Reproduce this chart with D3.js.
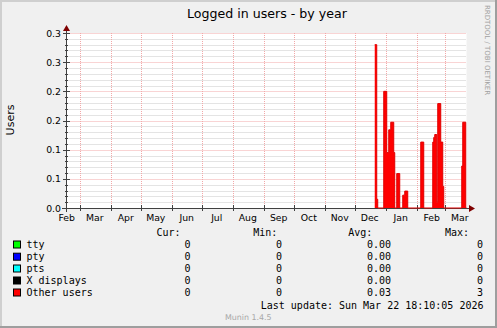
<!DOCTYPE html>
<html>
<head>
<meta charset="utf-8">
<script src="https://cdn.jsdelivr.net/npm/d3@7"></script>
<style>
  html, body { margin: 0; padding: 0; background: #f0f0f0; }
  svg { display: block; }
</style>
</head>
<body>
<div id="chart"></div>
<script>
// series values (Other users), step changes
const changeDays = ["2025-12-21", "2025-12-23", "2025-12-24", "2025-12-30", "2026-01-02",
    "2026-01-04", "2026-01-06", "2026-01-09", "2026-01-10", "2026-01-12", "2026-01-15",
    "2026-01-18", "2026-01-20", "2026-01-23", "2026-02-05", "2026-02-08", "2026-02-17",
    "2026-02-18", "2026-02-19", "2026-02-21", "2026-02-22", "2026-02-25", "2026-02-27",
    "2026-02-28", "2026-03-18", "2026-03-19", "2026-03-22"];
const otherUsers = [0.28, 0.015, 0, 0.2, 0.095,
    0.134, 0.147, 0.095, 0, 0.059, 0,
    0.022, 0.029, 0, 0.113, 0, 0.113,
    0.121, 0.126, 0.01, 0.179, 0.113, 0.037,
    0, 0.072, 0.147, 0];

// legend
const seriesNames = ["tty", "pty", "pts", "X displays", "Other users"];
const seriesColors = ["#00ff00", "#0000ff", "#00ffff", "#000000", "#ff0000"];
const curValues = ["0", "0", "0", "0", "0"];
const minValues = ["0", "0", "0", "0", "0"];
const avgValues = ["0.00", "0.00", "0.00", "0.00", "0.03"];
const maxValues = ["0", "0", "0", "0", "3"];

const yTicks = [0, 0.05, 0.1, 0.15, 0.2, 0.25, 0.3];
const yTickLabels = ["0.0", "0.1", "0.1", "0.2", "0.2", "0.3", "0.3"];

const title = "Logged in users - by year";
const lastUpdate = "Last update: Sun Mar 22 18:10:05 2026";

const W = 497, H = 328;
const sans = "'DejaVu Sans', sans-serif";
const mono = "'DejaVu Sans Mono', monospace";

let svg = d3.select('#chart').append('svg')
    .attr('width', W)
    .attr('height', H);

// background + 3d frame
svg.append('rect').attr('width', W).attr('height', H).attr('fill', '#f0f0f0');
svg.append('path').attr('d', 'M0,0H' + W + 'V2H2V' + H + 'H0Z').attr('fill', '#cfcfcf');
svg.append('path').attr('d', 'M' + W + ',0V' + H + 'H0V' + (H - 2) + 'H' + (W - 2) + 'V0Z').attr('fill', '#9e9e9e');

let end = new Date(2026, 2, 22, 18, 10, 5);
let start = d3.timeDay.offset(end, -400);

let x = d3.scaleTime().domain([start, end]).range([66.5, 466.5]);
let y = d3.scaleLinear().domain([0, 0.3]).range([208, 33]);

let plot = svg.append('g');
plot.append('rect')
    .attr('x', 66.5).attr('y', 33)
    .attr('width', 400).attr('height', 175)
    .attr('fill', '#ffffff');

// minor horizontal grid
let minor = d3.range(1, 30).map(i => i / 100).filter(v => !yTicks.some(t => Math.abs(t - v) < 1e-9));
plot.selectAll('.hminor').data(minor).enter().append('line')
    .attr('x1', 66.5).attr('x2', 466.5)
    .attr('y1', d => Math.round(y(d)) + 0.5).attr('y2', d => Math.round(y(d)) + 0.5)
    .attr('stroke', '#c8c8c8').attr('stroke-dasharray', '1,1');

// major grid
let months = d3.timeMonth.range(d3.timeMonth.ceil(start), end);
plot.selectAll('.vgrid').data(months).enter().append('line')
    .attr('x1', d => Math.round(x(d)) + 0.5).attr('x2', d => Math.round(x(d)) + 0.5)
    .attr('y1', 33).attr('y2', 208)
    .attr('stroke', '#f2a8a8').attr('stroke-dasharray', '1,1');
plot.selectAll('.hmajor').data(yTicks.slice(1)).enter().append('line')
    .attr('x1', 66.5).attr('x2', 466.5)
    .attr('y1', d => Math.round(y(d)) + 0.5).attr('y2', d => Math.round(y(d)) + 0.5)
    .attr('stroke', '#f2a8a8').attr('stroke-dasharray', '1,1');

// axes
let axisColor = '#404040';
plot.selectAll('.ytick').data(yTicks).enter().append('line')
    .attr('x1', 63).attr('x2', 70)
    .attr('y1', d => Math.round(y(d)) + 0.5).attr('y2', d => Math.round(y(d)) + 0.5)
    .attr('stroke', axisColor);
plot.selectAll('.ymtick').data(minor).enter().append('line')
    .attr('x1', 65).attr('x2', 68)
    .attr('y1', d => Math.round(y(d)) + 0.5).attr('y2', d => Math.round(y(d)) + 0.5)
    .attr('stroke', axisColor);
plot.selectAll('.xtick').data(months).enter().append('line')
    .attr('x1', d => Math.round(x(d)) + 0.5).attr('x2', d => Math.round(x(d)) + 0.5)
    .attr('y1', 205).attr('y2', 211)
    .attr('stroke', axisColor);

plot.append('line').attr('x1', 66.5).attr('x2', 66.5).attr('y1', 212).attr('y2', 30)
    .attr('stroke', axisColor);
plot.append('line').attr('x1', 62).attr('x2', 470).attr('y1', 208.5).attr('y2', 208.5)
    .attr('stroke', axisColor);
plot.append('path').attr('d', 'M63,31L66.5,25L70,31Z').attr('fill', '#7f0000');
plot.append('path').attr('d', 'M469,205L475,208.5L469,212Z').attr('fill', '#7f0000');

// data
let parse = d3.timeParse('%Y-%m-%d');
let data = changeDays.map((d, i) => ({ date: parse(d), v: otherUsers[i] }));
data.push({ date: end, v: 0 });

let area = d3.area()
    .curve(d3.curveStepAfter)
    .x(d => x(d.date))
    .y0(y(0))
    .y1(d => y(d.v));
let line = d3.line()
    .curve(d3.curveStepAfter)
    .x(d => x(d.date))
    .y(d => y(d.v));

plot.append('path').datum(data).attr('d', area).attr('fill', '#ff0000');
plot.append('path').datum(data).attr('d', line)
    .attr('fill', 'none').attr('stroke', '#e00000').attr('stroke-width', 1);

// tick labels
svg.selectAll('.ylab').data(yTicks).enter().append('text')
    .attr('x', 61).attr('y', d => y(d) + 3.5)
    .attr('text-anchor', 'end')
    .attr('font-family', sans).attr('font-size', '9.3px').attr('fill', '#000')
    .text((d, i) => yTickLabels[i]);

let labelDays = d3.timeMonth.range(d3.timeMonth.floor(start), end)
    .map(m => d3.timeDay.offset(m, 15))
    .filter(d => d >= start && d <= end);
svg.selectAll('.xlab').data(labelDays).enter().append('text')
    .attr('x', d => x(d)).attr('y', 220.5)
    .attr('text-anchor', 'middle')
    .attr('font-family', sans).attr('font-size', '9.3px').attr('fill', '#000')
    .text(d3.timeFormat('%b'));

// titles
svg.append('text')
    .attr('x', 267).attr('y', 18.3)
    .attr('text-anchor', 'middle')
    .attr('font-family', sans).attr('font-size', '12.6px').attr('fill', '#000')
    .text(title);

svg.append('text')
    .attr('transform', 'translate(14,120) rotate(-90)')
    .attr('text-anchor', 'middle')
    .attr('font-family', sans).attr('font-size', '11px').attr('fill', '#000')
    .text('Users');

svg.append('text')
    .attr('transform', 'translate(485,50) rotate(90)')
    .attr('text-anchor', 'middle')
    .attr('font-family', sans).attr('font-size', '7px').attr('fill', '#a0a0a0')
    .text('RRDTOOL / TOBI OETIKER');

// legend
let legend = svg.append('g')
    .attr('font-family', mono).attr('font-size', '10px').attr('fill', '#000');

let headers = [['Cur:', 180], ['Min:', 277.3], ['Avg:', 372.3], ['Max:', 469]];
headers.forEach(h => {
    legend.append('text').attr('x', h[0] === 'Cur:' ? 180.5 : h[1]).attr('y', 235.8)
        .attr('text-anchor', 'end').text(h[0]);
});

let rowY = [244.5, 256.7, 268.5, 280.5, 292.5];
let cols = [[curValues, 190.5], [minValues, 282], [avgValues, 391], [maxValues, 483]];
seriesNames.forEach((name, i) => {
    let cy = rowY[i];
    legend.append('rect')
        .attr('x', 13.5).attr('y', cy - 3.5)
        .attr('width', 7).attr('height', 7)
        .attr('fill', seriesColors[i]).attr('stroke', '#000').attr('stroke-width', 1);
    legend.append('text').attr('x', 26.5).attr('y', cy + 3.5).text(name);
    cols.forEach(c => {
        legend.append('text').attr('x', c[1]).attr('y', cy + 3.5)
            .attr('text-anchor', 'end').text(c[0][i]);
    });
});

legend.append('text').attr('x', 483.5).attr('y', 308.5)
    .attr('text-anchor', 'end').text(lastUpdate);

svg.append('text')
    .attr('x', 248.3).attr('y', 319.5)
    .attr('text-anchor', 'middle')
    .attr('font-family', sans).attr('font-size', '7.9px').attr('fill', '#a8a8a8')
    .text('Munin 1.4.5');
</script>
</body>
</html>
